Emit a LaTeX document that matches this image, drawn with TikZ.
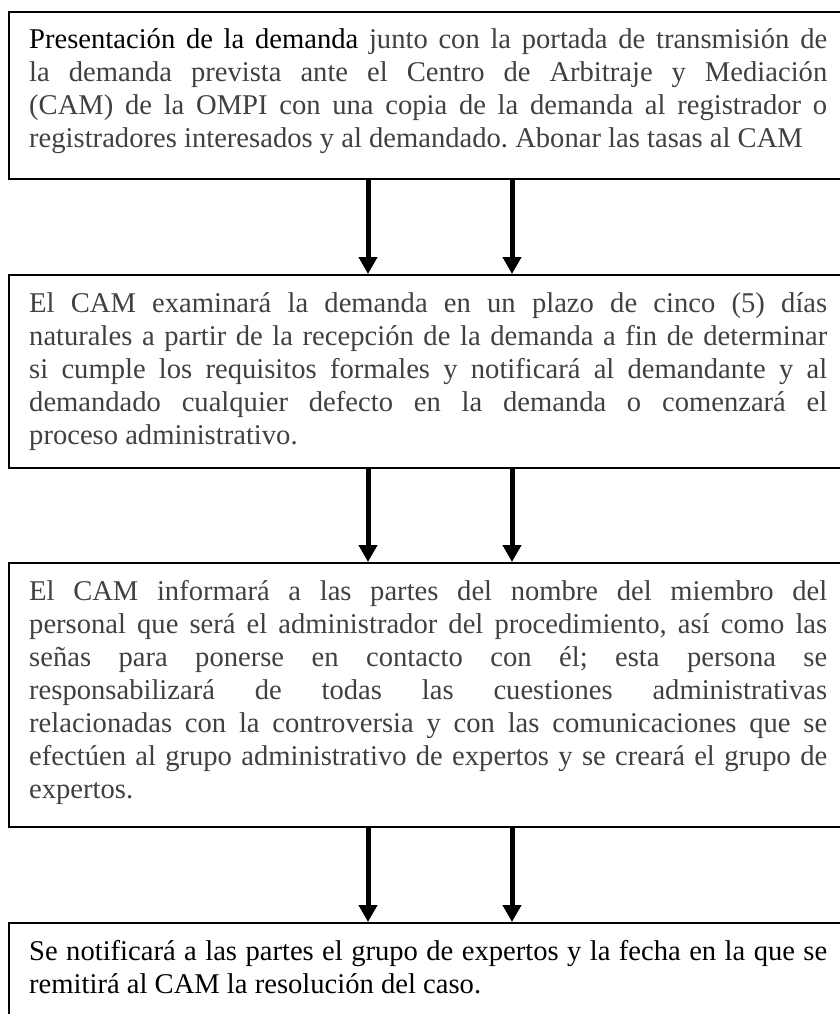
\documentclass[tikz,border=0pt]{standalone}
\usepackage{fontspec}
\setmainfont{Liberation Serif}
\usetikzlibrary{arrows.meta}
\definecolor{txtgray}{RGB}{64,64,64}
\newcommand\jline[1]{\makebox[798pt][s]{#1}}
\newcommand\txtsetup{\frenchspacing\spaceskip=0.25em plus 0.6em minus 0.12em\relax}
\begin{document}
\begin{tikzpicture}[x=1pt,y=-1pt,
  box/.style={draw=black,line width=2pt,anchor=north west,inner sep=0pt,minimum width=842pt},
  txt/.style={anchor=base west,inner sep=0pt,text width=800pt,align=left,
    font=\fontsize{28.6}{33}\selectfont},
  arr/.style={line width=5pt,-{Triangle[width=18pt,length=17pt]}}]
\useasboundingbox (0,0) rectangle (840,1014);
\node[box,minimum height=167.3pt] (b1) at (8,10.7) {};
\node[box,minimum height=193pt] (b2) at (8,274) {};
\node[box,minimum height=264pt] (b3) at (8,562) {};
\node[box,minimum height=108pt] (b4) at (8,922) {};
\node[txt,text=txtgray] (t1) at (29,48.5) {\txtsetup
\jline{{\color{black}Presentación de la demanda} junto con la portada de transmisión de}\\
\jline{la demanda prevista ante el Centro de Arbitraje y Mediación}\\
\jline{(CAM) de la OMPI con una copia de la demanda al registrador o}\\
registradores interesados y al demandado. Abonar las tasas al CAM};
\node[txt,text=txtgray] (t2) at (29,312) {\txtsetup
\jline{El CAM examinará la demanda en un plazo de cinco (5) días}\\
\jline{naturales a partir de la recepción de la demanda a fin de determinar}\\
\jline{si cumple los requisitos formales y notificará al demandante y al}\\
\jline{demandado cualquier defecto en la demanda o comenzará el}\\
proceso administrativo.};
\node[txt,text=txtgray] (t3) at (29,600) {\txtsetup
\jline{El CAM informará a las partes del nombre del miembro del}\\
\jline{personal que será el administrador del procedimiento, así como las}\\
\jline{señas para ponerse en contacto con él; esta persona se}\\
\jline{responsabilizará de todas las cuestiones administrativas}\\
\jline{relacionadas con la controversia y con las comunicaciones que se}\\
\jline{efectúen al grupo administrativo de expertos y se creará el grupo de}\\
expertos.};
\node[txt,text=black] (t4) at (29,960) {\txtsetup
\jline{Se notificará a las partes el grupo de expertos y la fecha en la que se}\\
remitirá al CAM la resolución del caso.};
\draw[arr] ([xshift=360pt]b1.south west) -- ([xshift=360pt]b2.north west);
\draw[arr] ([xshift=504pt]b1.south west) -- ([xshift=504pt]b2.north west);
\draw[arr] ([xshift=360pt]b2.south west) -- ([xshift=360pt]b3.north west);
\draw[arr] ([xshift=504pt]b2.south west) -- ([xshift=504pt]b3.north west);
\draw[arr] ([xshift=360pt]b3.south west) -- ([xshift=360pt]b4.north west);
\draw[arr] ([xshift=504pt]b3.south west) -- ([xshift=504pt]b4.north west);
\end{tikzpicture}
\end{document}
